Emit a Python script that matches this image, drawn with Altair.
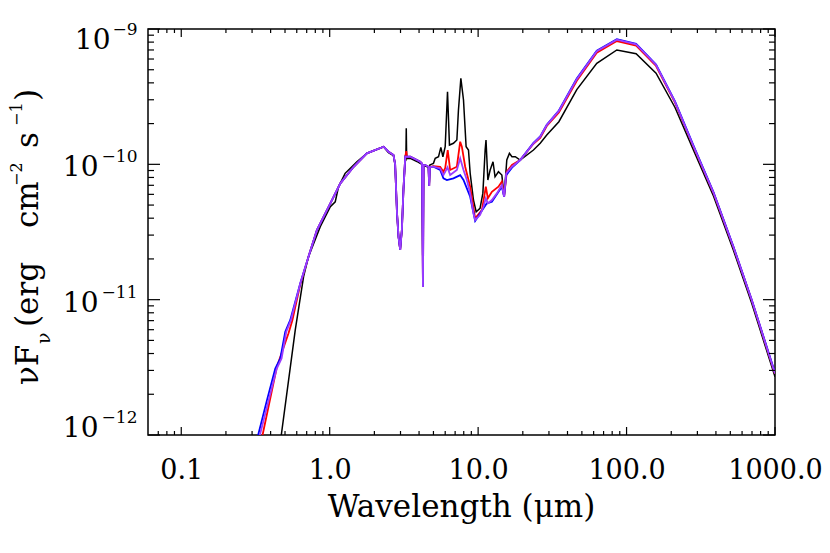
import altair as alt
import pandas as pd

# ---------------- data ----------------
black_wl = [0.459, 0.472, 0.586, 0.667, 0.719, 0.864, 1.01, 1.09, 1.147, 1.27, 1.525, 1.78, 2.31, 2.49, 2.69, 2.76,
            2.84, 2.91, 2.985, 3.065, 3.14, 3.23, 3.26, 3.28, 3.30, 3.49, 3.87, 4.07, 4.19, 4.25, 4.29, 4.40, 4.63,
            4.68, 4.73, 5.00, 5.14, 5.41, 5.61, 5.79, 6.00, 6.22, 6.41, 6.82, 7.19, 7.37, 7.65, 7.97, 8.30, 8.61,
            8.84, 9.30, 9.70, 10.3, 10.76, 11.15, 11.3, 11.63, 12.05, 12.6, 13.0, 13.7, 14.45, 14.97, 15.6, 16.25,
            16.9, 17.8, 19.2, 23.6, 26.2, 29.0, 35.0, 46.2, 63.0, 86.0, 116, 158, 212, 282, 385, 524, 697, 1000]
black_f = [7.7e-13, 1.0e-12, 5.96e-12, 1.48e-11, 2.07e-11, 3.46e-11, 4.86e-11, 5.29e-11, 6.83e-11, 8.58e-11,
           1.045e-10, 1.205e-10, 1.35e-10, 1.22e-10, 1.16e-10, 1.00e-10, 4.4e-11, 2.9e-11, 2.33e-11, 3.3e-11,
           6.5e-11, 1.12e-10, 1.10e-10, 1.845e-10, 1.10e-10, 1.107e-10, 1.05e-10, 1.017e-10, 1.0e-10, 1.24e-11,
           9.8e-11, 9.7e-11, 9.5e-11, 6.91e-11, 9.9e-11, 1.017e-10, 1.107e-10, 1.138e-10, 1.336e-10, 1.138e-10,
           1.35e-10, 3.44e-10, 1.389e-10, 1.43e-10, 1.512e-10, 2.52e-10, 4.32e-10, 2.99e-10, 1.35e-10, 1.275e-10,
           8.58e-11, 5.45e-11, 4.46e-11, 4.73e-11, 6.10e-11, 1.275e-10, 1.512e-10, 7.66e-11, 9.08e-11, 1.045e-10,
           8.09e-11, 8.82e-11, 8.33e-11, 5.76e-11, 1.076e-10, 1.205e-10, 1.138e-10, 1.138e-10, 1.076e-10, 1.275e-10,
           1.43e-10, 1.646e-10, 2.065e-10, 3.57e-10, 5.58e-10, 7.00e-10, 6.57e-10, 4.71e-10, 2.63e-10, 1.275e-10,
           5.83e-11, 2.33e-11, 9.39e-12, 2.69e-12]

red_wl = [0.335, 0.353, 0.441, 0.528, 0.560, 0.634, 0.719, 0.820, 1.01, 1.18, 1.45, 1.78, 2.31, 2.49, 2.69, 2.76,
          2.84, 2.91, 2.985, 3.065, 3.14, 3.23, 3.28, 3.32, 3.49, 3.87, 4.07, 4.19, 4.25, 4.29, 4.40, 4.63, 4.68,
          4.73, 5.00, 5.55, 5.84, 6.00, 6.24, 6.48, 7.19, 7.57, 7.77, 8.18, 8.84, 9.55, 10.6, 11.27, 11.63, 12.38,
          13.7, 14.45, 14.97, 15.6, 16.9, 19.2, 23.6, 26.2, 29.0, 35.0, 46.2, 63.0, 86.0, 116, 158, 212, 282, 385,
          524, 697, 1000]
red_f = [7.7e-13, 1.0e-12, 3.19e-12, 5.64e-12, 7.0e-12, 1.30e-11, 2.07e-11, 3.27e-11, 5.15e-11, 7.24e-11,
         9.59e-11, 1.205e-10, 1.35e-10, 1.24e-10, 1.17e-10, 1.00e-10, 4.4e-11, 2.9e-11, 2.33e-11, 3.3e-11,
         6.5e-11, 1.14e-10, 1.25e-10, 1.13e-10, 1.138e-10, 1.076e-10, 1.045e-10, 1.014e-10, 1.24e-11, 9.9e-11,
         9.88e-11, 9.6e-11, 6.91e-11, 9.55e-11, 9.7e-11, 9.6e-11, 8.82e-11, 9.39e-11, 1.275e-10, 9.08e-11,
         9.6e-11, 1.47e-10, 1.35e-10, 9.6e-11, 6.83e-11, 3.99e-11, 4.59e-11, 6.83e-11, 5.61e-11, 6.27e-11,
         6.83e-11, 7.44e-11, 5.76e-11, 8.82e-11, 9.88e-11, 1.076e-10, 1.42e-10, 1.57e-10, 1.92e-10, 2.42e-10,
         4.15e-10, 6.68e-10, 8.15e-10, 7.55e-10, 5.33e-10, 2.86e-10, 1.355e-10, 6.15e-11, 2.45e-11, 9.9e-12,
         2.84e-12]

blue_wl = [0.310, 0.332, 0.378, 0.430, 0.465, 0.502, 0.542, 0.634, 0.719, 0.820, 1.01, 1.18, 1.45, 1.78, 2.31,
           2.49, 2.69, 2.76, 2.84, 2.91, 2.985, 3.065, 3.14, 3.23, 3.49, 3.87, 4.07, 4.19, 4.25, 4.29, 4.40, 4.63,
           4.68, 4.73, 5.00, 5.55, 5.84, 6.16, 6.82, 7.57, 7.97, 8.84, 9.55, 10.86, 11.45, 12.38, 14.45, 14.97,
           15.45, 16.9, 19.2, 23.6, 26.2, 29.0, 35.0, 46.2, 63.0, 86.0, 116, 158, 212, 282, 385, 524, 697, 1000]
blue_f = [7.73e-13, 1.03e-12, 1.81e-12, 3.10e-12, 3.68e-12, 5.79e-12, 7.06e-12, 1.32e-11, 2.07e-11, 3.27e-11,
          5.15e-11, 7.24e-11, 9.59e-11, 1.205e-10, 1.35e-10, 1.24e-10, 1.17e-10, 1.00e-10, 4.4e-11, 2.9e-11,
          2.33e-11, 3.3e-11, 6.5e-11, 1.14e-10, 1.138e-10, 1.076e-10, 1.045e-10, 1.014e-10, 1.24e-11, 9.9e-11,
          9.88e-11, 9.6e-11, 6.91e-11, 9.55e-11, 9.6e-11, 9.08e-11, 7.88e-11, 7.66e-11, 7.88e-11, 8.33e-11,
          7.66e-11, 5.76e-11, 3.81e-11, 4.73e-11, 5.15e-11, 5.29e-11, 6.83e-11, 5.76e-11, 8.33e-11, 9.45e-11,
          1.076e-10, 1.44e-10, 1.61e-10, 1.96e-10, 2.50e-10, 4.30e-10, 6.92e-10, 8.42e-10, 7.78e-10, 5.47e-10,
          2.92e-10, 1.38e-10, 6.25e-11, 2.48e-11, 1.0e-11, 2.88e-12]

purple_wl = [0.318, 0.341, 0.388, 0.440, 0.474, 0.510, 0.548, 0.634, 0.719, 0.820, 1.01, 1.18, 1.45, 1.78, 2.31,
             2.49, 2.69, 2.76, 2.84, 2.91, 2.985, 3.065, 3.14, 3.23, 3.49, 3.87, 4.07, 4.19, 4.25, 4.29, 4.40,
             4.63, 4.68, 4.73, 5.00, 5.55, 5.84, 6.22, 6.48, 7.19, 7.57, 7.97, 8.40, 8.84, 9.30, 9.55, 10.3,
             10.86, 11.27, 11.63, 12.38, 13.37, 14.45, 14.97, 15.45, 16.9, 19.2, 23.6, 26.2, 29.0, 35.0, 46.2,
             63.0, 86.0, 116, 158, 212, 282, 385, 524, 697, 1000]
purple_f = [7.73e-13, 1.03e-12, 1.81e-12, 3.10e-12, 3.68e-12, 5.79e-12, 7.06e-12, 1.32e-11, 2.07e-11, 3.27e-11,
            5.15e-11, 7.24e-11, 9.59e-11, 1.205e-10, 1.35e-10, 1.24e-10, 1.17e-10, 1.00e-10, 4.4e-11, 2.9e-11,
            2.33e-11, 3.3e-11, 6.5e-11, 1.14e-10, 1.138e-10, 1.076e-10, 1.045e-10, 1.014e-10, 1.24e-11, 9.9e-11,
            9.88e-11, 9.6e-11, 6.91e-11, 9.55e-11, 9.6e-11, 9.33e-11, 8.33e-11, 9.5e-11, 8.33e-11, 9.08e-11,
            1.107e-10, 9.08e-11, 7.66e-11, 6.10e-11, 4.34e-11, 3.88e-11, 4.22e-11, 4.86e-11, 5.61e-11, 5.15e-11,
            5.45e-11, 6.10e-11, 7.03e-11, 5.76e-11, 8.58e-11, 9.6e-11, 1.076e-10, 1.43e-10, 1.60e-10, 1.95e-10,
            2.48e-10, 4.26e-10, 6.85e-10, 8.34e-10, 7.70e-10, 5.42e-10, 2.89e-10, 1.366e-10, 6.19e-11, 2.46e-11,
            9.93e-12, 2.85e-12]

x_tick_labels = [0.1, 1.0, 10.0, 100.0, 1000.0]
x_minor = [0.07, 0.08, 0.09] + [m * 10.0 ** e for e in (-1, 0, 1, 2) for m in range(2, 10)]
y_major = [1e-12, 1e-11, 1e-10, 1e-9]
y_minor = [m * 10.0 ** e for e in (-12, -11, -10) for m in range(2, 10)]
y_sup = ["\u221212", "\u221211", "\u221210", "\u22129"]

# ---------------- chart ----------------
FONT = "DejaVu Serif"
W, H = 627, 406
xs = alt.Scale(type="log", domain=[0.0597, 1000], nice=False)
ys = alt.Scale(type="log", domain=[1e-12, 1e-9], nice=False)
xaxis = alt.Axis(values=x_tick_labels, format=".1f", ticks=False, domain=False, grid=False,
                 labelFont=FONT, labelFontSize=27, labelColor="black", labelPadding=22,
                 labelFlush=False, labelOverlap=False, labelBound=False, title=None)


def series(wl, f, color, width):
    df = pd.DataFrame({"wl": wl, "f": f})
    return alt.Chart(df).mark_line(color=color, strokeWidth=width, clip=True).encode(
        x=alt.X("wl:Q", scale=xs, axis=xaxis),
        y=alt.Y("f:Q", scale=ys, axis=None),
        order="wl:Q",
    )


layers = [
    series(black_wl, black_f, "black", 1.5),
    series(red_wl, red_f, "#ff0000", 1.8),
    series(blue_wl, blue_f, "#0000ff", 1.8),
    series(purple_wl, purple_f, "#9b3dff", 1.8),
]

# inward ticks on all four sides
xmaj = pd.DataFrame({"v": x_tick_labels})
xmin = pd.DataFrame({"v": x_minor})
ymaj = pd.DataFrame({"v": y_major})
ymin = pd.DataFrame({"v": y_minor})


def xticks(df, y0, y1):
    return alt.Chart(df).mark_rule(color="black", strokeWidth=1.2).encode(
        x=alt.X("v:Q", scale=xs, axis=xaxis), y=alt.value(y0), y2=alt.value(y1))


def yticks(df, x0, x1):
    return alt.Chart(df).mark_rule(color="black", strokeWidth=1.2).encode(
        y=alt.Y("v:Q", scale=ys, axis=None), x=alt.value(x0), x2=alt.value(x1))


layers += [
    xticks(xmaj, H, H - 8), xticks(xmin, H, H - 4),
    xticks(xmaj, 0, 8), xticks(xmin, 0, 4),
    yticks(ymaj, 0, 12), yticks(ymin, 0, 6),
    yticks(ymaj, W, W - 12), yticks(ymin, W, W - 6),
]

# y tick labels: "10" with a raised exponent
ylab = pd.DataFrame({"v": y_major, "base": ["10"] * 4, "sup": y_sup})


def ytext(sups, field, xpx, dy, size):
    return alt.Chart(ylab).transform_filter(
        alt.FieldOneOfPredicate(field="sup", oneOf=sups)
    ).mark_text(align="right", baseline="alphabetic", dy=dy, fontSize=size, font=FONT,
                color="black").encode(
        y=alt.Y("v:Q", scale=ys, axis=None), x=alt.value(xpx), text=f"{field}:N")


layers += [
    ytext(["\u22129"], "base", -37.5, 20, 28),
    ytext(["\u221210", "\u221211"], "base", -49.5, 12, 28),
    ytext(["\u221212"], "base", -49.5, 2, 28),
    ytext(["\u22129"], "sup", -10.5, 6, 17),
    ytext(["\u221210", "\u221211"], "sup", -10.5, -2, 17),
    ytext(["\u221212"], "sup", -10.5, -12, 17),
]

one = pd.DataFrame({"a": [0]})


def label(text, x, y, size, angle=0, align="center"):
    kw = dict(align=align, baseline="alphabetic", fontSize=size, font=FONT, color="black")
    if angle:
        kw["angle"] = angle
    return alt.Chart(one).mark_text(**kw).encode(
        x=alt.value(x), y=alt.value(y), text=alt.value(text))


# x title
layers.append(label("Wavelength (\u03bcm)", W / 2, H + 82, 31))

# y title pieces (rotated, reading upward)
layers += [
    label("\u03bdF", -109.7, 356, 31, 270, "left"),
    label("\u03bd", -97.7, 315, 19, 270, "left"),
    label("(erg", -109.7, 298, 31, 270, "left"),
    label("cm", -109.7, 199, 31, 270, "left"),
    label("\u22122", -126.5, 157, 16, 270, "left"),
    label("s", -109.7, 119, 31, 270, "left"),
    label("\u22121", -126.5, 97, 16, 270, "left"),
    label(")", -109.7, 72, 31, 270, "left"),
]

chart = alt.layer(*layers).properties(
    width=W, height=H,
    padding={"left": 140, "top": 21, "right": 47, "bottom": 110},
    autosize=alt.AutoSizeParams(type="none"),
    background="white",
).configure_view(stroke="black", strokeWidth=1.5)

chart.save("out.html", embed_options={"renderer": "svg", "actions": False})
